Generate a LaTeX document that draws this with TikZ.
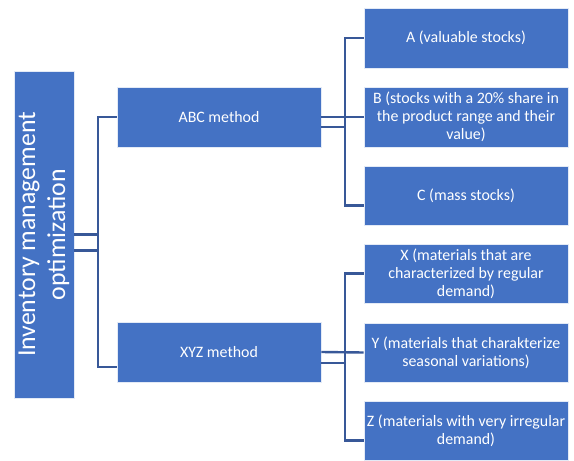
\documentclass[tikz,border=0pt]{standalone}
\usepackage{fontspec}
\setmainfont{Carlito}
\definecolor{boxblue}{RGB}{68,114,196}
\definecolor{linkblue}{RGB}{56,88,152}
\begin{document}
\begin{tikzpicture}[x=1pt,y=-1pt,
  box/.style={fill=boxblue,draw=white!85!boxblue,line width=0.6pt,text=white,align=center,inner sep=0pt,font=\fontsize{15.9}{18}\selectfont},
  leaf/.style={box,minimum width=204},
  conn/.style={draw=linkblue,line width=2.4pt}]
\useasboundingbox (0,0) rectangle (574,461);
% root
\node[box,minimum width=60,minimum height=327,font=\fontsize{25.8}{30}\selectfont] (root) at (44,234.5)
  {\rotatebox{90}{\begin{tabular}{@{}c@{}}Inventory management\\optimization\end{tabular}}};
% level 1
\node[box,minimum width=204,minimum height=60] (abc) at (219,117) {ABC method};
\node[box,minimum width=204,minimum height=60] (xyz) at (219,352) {XYZ method};
% level 2
\node[leaf,minimum height=60] (a) at (466,38) {A (valuable stocks)};
\node[leaf,minimum height=60] (b) at (466,117) {B (stocks with a 20\% share in\\the product range and their\\value)};
\node[leaf,minimum height=59] (c) at (466,195.5) {C (mass stocks)};
\node[leaf,minimum height=59] (x) at (466,273.5) {X (materials that are\\characterized by regular\\demand)};
\node[leaf,minimum height=59] (y) at (466,352.5) {Y (materials that charakterize\\seasonal variations)};
\node[leaf,minimum height=59] (z) at (466,430.5) {Z (materials with very irregular\\demand)};
% bracket coordinates
\coordinate (j0) at (98,234.5);
\coordinate (j1) at (345,117);
\coordinate (j2) at (345,352);
% root connectors
\draw[conn] (root.east) -- (root.east -| j0);
\draw[conn] ([yshift=-16]root.east) -- ([yshift=-16]root.east -| j0);
\draw[conn] (abc.west) -- (abc.west -| j0) -- ([yshift=-15]xyz.west -| j0) -- ([yshift=-15]xyz.west);
% ABC connectors
\draw[conn] (abc.east) -- (b.west);
\draw[conn] ([yshift=-10]abc.east) -- ([yshift=-10]abc.east -| j1);
\draw[conn] (a.west) -- (a.west -| j1) -- ([yshift=-10]c.west -| j1) -- ([yshift=-10]c.west);
% XYZ connectors
\draw[conn] (xyz.east) -- (y.west);
\draw[conn] ([yshift=-11]xyz.east) -- ([yshift=-11]xyz.east -| j2);
\draw[conn] (x.west) -- (x.west -| j2) -- ([yshift=-10]z.west -| j2) -- ([yshift=-10]z.west);
\end{tikzpicture}
\end{document}
